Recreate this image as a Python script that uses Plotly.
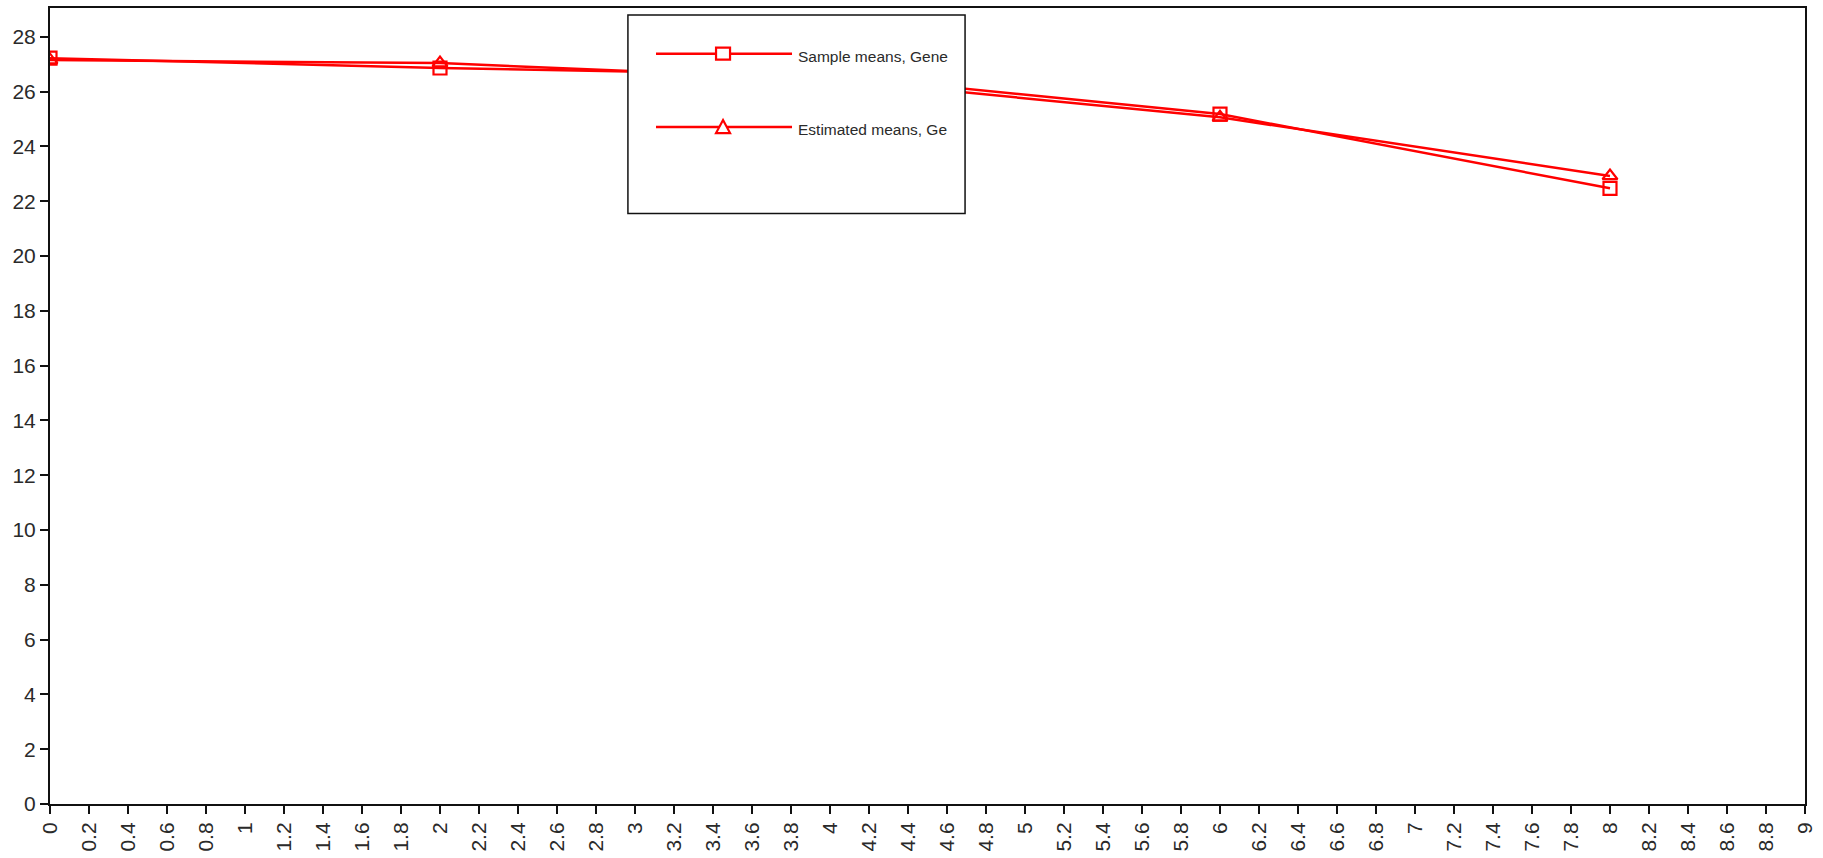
import plotly.graph_objects as go

# Time points and group means
time_points = [0, 2, 4, 6, 8]
sample_means = [27.22, 26.86, 26.60, 25.18, 22.47]
estimated_means = [27.15, 27.04, 26.45, 25.06, 22.92]

legend_labels = ["Sample means, Gene", "Estimated means, Ge"]
line_color = "#ff0000"
text_color = "#2a2a2a"
font_family = "Arial, Liberation Sans, sans-serif"

fig = go.Figure()
fig.add_trace(go.Scatter(
    x=time_points, y=sample_means, mode="lines+markers",
    name=legend_labels[0], showlegend=False,
    line=dict(color=line_color, width=2.5),
    marker=dict(symbol="square-open", size=13, color=line_color, line=dict(width=2.2)),
))
fig.add_trace(go.Scatter(
    x=time_points, y=estimated_means, mode="lines+markers",
    name=legend_labels[1], showlegend=False,
    line=dict(color=line_color, width=2.5),
    marker=dict(symbol="triangle-up-open", size=13, color=line_color, line=dict(width=2.2)),
))

# Boxed key drawn in the upper middle of the plot area
shapes = [dict(type="rect", xref="paper", yref="paper",
               x0=0.3293, x1=0.5214, y0=0.7419, y1=0.9913,
               line=dict(color="#111111", width=1.5), fillcolor="white", layer="above")]
annotations = []
key_rows = [0.9426, 0.8504]
for row_y, label in zip(key_rows, legend_labels):
    shapes.append(dict(type="line", xref="paper", yref="paper",
                       x0=0.3453, x1=0.4228, y0=row_y, y1=row_y,
                       line=dict(color=line_color, width=2.5), layer="above"))
    annotations.append(dict(xref="paper", yref="paper", x=0.4251, y=row_y - 0.003,
                            text=label, showarrow=False, xanchor="left", yanchor="middle",
                            font=dict(family=font_family, size=15.5, color=text_color)))
# key glyphs: square and triangle
shapes.append(dict(type="rect", xref="paper", yref="paper",
                   xsizemode="pixel", ysizemode="pixel",
                   xanchor=0.3835, yanchor=key_rows[0],
                   x0=-7, x1=7, y0=-6, y1=6,
                   line=dict(color=line_color, width=2.2), fillcolor="white", layer="above"))
shapes.append(dict(type="path", xref="paper", yref="paper",
                   xsizemode="pixel", ysizemode="pixel",
                   xanchor=0.3835, yanchor=key_rows[1],
                   path="M -7 -6 L 7 -6 L 0 7 Z",
                   line=dict(color=line_color, width=2.2), fillcolor="white", layer="above"))

axis_common = dict(
    showline=True, linecolor="#111111", linewidth=2, mirror=True,
    ticks="outside", ticklen=8, tickwidth=1.5, tickcolor="#111111",
    showgrid=False, zeroline=False,
    tickfont=dict(family=font_family, size=21, color=text_color),
)

fig.update_layout(
    width=1823, height=858,
    margin=dict(l=50, r=18, t=6, b=50),
    paper_bgcolor="white", plot_bgcolor="white",
    shapes=shapes, annotations=annotations,
    xaxis=dict(range=[0, 9], tickmode="linear", tick0=0, dtick=0.2,
               tickangle=-90, **axis_common),
    yaxis=dict(range=[0, 29.05], tickmode="linear", tick0=0, dtick=2, **axis_common),
)

fig.write_html("out.html")
